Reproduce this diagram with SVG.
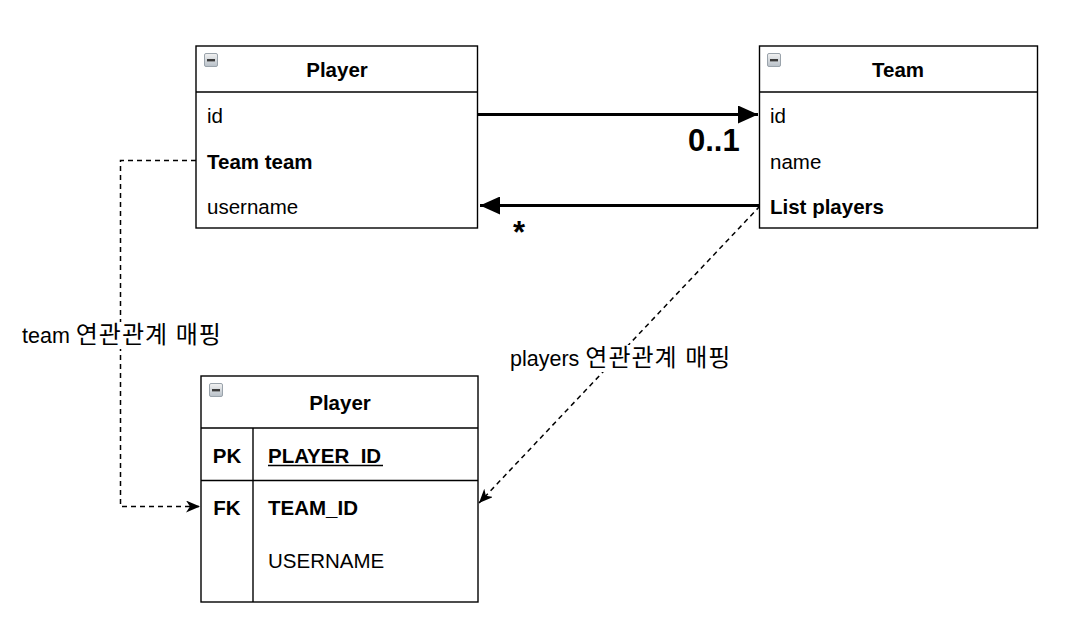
<svg xmlns="http://www.w3.org/2000/svg" width="1080" height="635" viewBox="0 0 1080 635">
<style>
text{font-family:"Liberation Sans","Noto Sans CJK KR",Arial,sans-serif;fill:#000}
.t{font-size:20.5px}
.b{font-weight:bold}
.c{text-anchor:middle}
.box{fill:#fff;stroke:#000;stroke-width:1.4}
.ln{stroke:#000;stroke-width:1.4;fill:none}
.solid{stroke:#000;stroke-width:3.2;fill:none}
.dash{stroke:#000;stroke-width:1.5;fill:none;stroke-dasharray:5 4}
.lbl{font-size:21.5px}
.ko{font-size:24px;letter-spacing:1px}
</style>
<defs>
<linearGradient id="ig" x1="0" y1="0" x2="0" y2="1">
<stop offset="0" stop-color="#f2f2f2"/><stop offset="1" stop-color="#b8c0c8"/>
</linearGradient>
<g id="icon">
<rect x="0.5" y="0.5" width="13" height="13" rx="1.5" fill="url(#ig)" stroke="#9aa3ab" stroke-width="1"/>
<rect x="3" y="6" width="8" height="2.4" fill="#3a3a3a"/>
</g>
<marker id="big" viewBox="0 0 20 18" refX="20" refY="9" markerWidth="20" markerHeight="18" markerUnits="userSpaceOnUse" orient="auto">
<path d="M0,0 L20,9 L0,18 Z" fill="#000"/>
</marker>
<marker id="sm" viewBox="0 0 14 12" refX="14" refY="6" markerWidth="14" markerHeight="12" markerUnits="userSpaceOnUse" orient="auto">
<path d="M0,0 L14,6 L0,12 L4,6 Z" fill="#000"/>
</marker>
</defs>

<g id="connectors">
<path class="solid" d="M478,114.5 L758,114.5" marker-end="url(#big)"/>
<path class="solid" d="M760,205.5 L480,205.5" marker-end="url(#big)"/>
<path class="dash" d="M196,160.5 L120.5,160.5 L120.5,506.5 L200,506.5" marker-end="url(#sm)"/>
<path class="dash" d="M760,206 L479,503" marker-end="url(#sm)"/>
<text x="688" y="151" style="font-size:31px" class="b">0..1</text>
<text x="513" y="243" style="font-size:31px" class="b">*</text>
<rect x="20" y="322" width="202" height="27" fill="#fff"/>
<text x="22" y="343" class="lbl">team <tspan class="ko">연관관계 매핑</tspan></text>
<rect x="508" y="345" width="226" height="27" fill="#fff"/>
<text x="510" y="366" class="lbl">players <tspan class="ko">연관관계 매핑</tspan></text>
</g>

<g id="player-class">
<rect class="box" x="196" y="46" width="281.5" height="182"/>
<line class="ln" x1="196" y1="92" x2="477.5" y2="92"/>
<use href="#icon" x="204" y="53"/>
<text x="337" y="77" class="t b c">Player</text>
<text x="207" y="123" class="t">id</text>
<text x="207" y="169" class="t b">Team team</text>
<text x="207" y="214" class="t">username</text>
</g>

<g id="team-class">
<rect class="box" x="759.5" y="46" width="278" height="182"/>
<line class="ln" x1="759.5" y1="92" x2="1037.5" y2="92"/>
<use href="#icon" x="767" y="53"/>
<text x="898" y="77" class="t b c">Team</text>
<text x="770" y="123" class="t">id</text>
<text x="770" y="169" class="t">name</text>
<text x="770" y="214" class="t b">List players</text>
</g>

<g id="player-table">
<rect class="box" x="201" y="376" width="277" height="226"/>
<line class="ln" x1="201" y1="428" x2="478" y2="428"/>
<line class="ln" x1="201" y1="480.5" x2="478" y2="480.5"/>
<line class="ln" x1="253" y1="428" x2="253" y2="602"/>
<use href="#icon" x="209" y="383"/>
<text x="340" y="410" class="t b c">Player</text>
<text x="227" y="463" class="t b c">PK</text>
<text x="268" y="463" class="t b">PLAYER_ID</text>
<line x1="268" y1="465.5" x2="383" y2="465.5" stroke="#000" stroke-width="1.4"/>
<text x="227" y="515" class="t b c">FK</text>
<text x="268" y="515" class="t b">TEAM_ID</text>
<text x="268" y="568" class="t">USERNAME</text>
</g>
</svg>
